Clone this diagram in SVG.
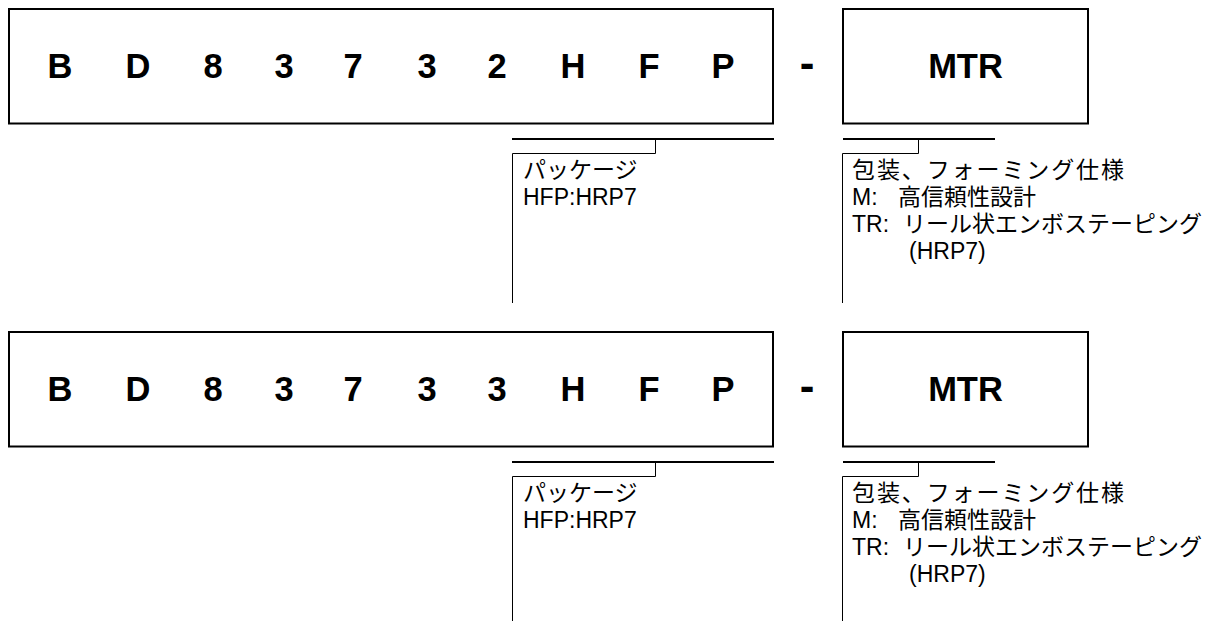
<svg xmlns="http://www.w3.org/2000/svg" width="1218" height="621" viewBox="0 0 1218 621">
<style>
.box{fill:#fff;stroke:#000;stroke-width:2}
.big{font-family:"Liberation Sans",Arial,sans-serif;font-weight:bold;font-size:34.5px;text-anchor:middle;fill:#000}
.dash{font-family:"Liberation Sans",Arial,sans-serif;font-weight:bold;font-size:44px;text-anchor:middle;fill:#000}
.sm{font-family:"Liberation Sans",Arial,"Noto Sans CJK JP",sans-serif;font-size:23px;fill:#000}
.thick{stroke:#000;stroke-width:2;fill:none}
.thin{stroke:#000;stroke-width:1;fill:none}
</style>
<rect width="1218" height="621" fill="#fff"/>
<defs>
<g id="row">
<rect class="box" x="9" y="9" width="764" height="114.5"/>
<rect class="box" x="843" y="9" width="245" height="114.5"/>
<text class="dash" x="807" y="78">-</text>
<g class="connectors">
<line class="thick" x1="512" y1="139" x2="774" y2="139"/>
<polyline class="thin" points="655.5,139 655.5,153.5 512.5,153.5 512.5,303"/>
<line class="thick" x1="843" y1="139" x2="995" y2="139"/>
<polyline class="thin" points="918.5,139 918.5,153.5 842.5,153.5 842.5,303"/>
</g>
<text class="sm" x="523" y="178">パッケージ</text>
<text class="sm" x="523" y="205">HFP:HRP7</text>
<text class="sm" x="852" y="178" textLength="272" lengthAdjust="spacing">包装、フォーミング仕様</text>
<text class="sm" y="205"><tspan x="852">M:</tspan><tspan x="898">高信頼性設計</tspan></text>
<text class="sm" y="232"><tspan x="852">TR:</tspan><tspan x="903">リール状エンボステーピング</tspan></text>
<text class="sm" x="909" y="259">(HRP7)</text>
<text class="big" x="965.5" y="78">MTR</text>
</g>
</defs>
<g id="part1">
<use href="#row"/>
<g>
<text class="big" x="60" y="78">B</text>
<text class="big" x="138" y="78">D</text>
<text class="big" x="213" y="78">8</text>
<text class="big" x="284" y="78">3</text>
<text class="big" x="353" y="78">7</text>
<text class="big" x="427" y="78">3</text>
<text class="big" x="497" y="78">2</text>
<text class="big" x="573" y="78">H</text>
<text class="big" x="649" y="78">F</text>
<text class="big" x="723" y="78">P</text>
</g>
</g>
<g id="part2" transform="translate(0,323)">
<use href="#row"/>
<g>
<text class="big" x="60" y="78">B</text>
<text class="big" x="138" y="78">D</text>
<text class="big" x="213" y="78">8</text>
<text class="big" x="284" y="78">3</text>
<text class="big" x="353" y="78">7</text>
<text class="big" x="427" y="78">3</text>
<text class="big" x="497" y="78">3</text>
<text class="big" x="573" y="78">H</text>
<text class="big" x="649" y="78">F</text>
<text class="big" x="723" y="78">P</text>
</g>
</g>
</svg>
